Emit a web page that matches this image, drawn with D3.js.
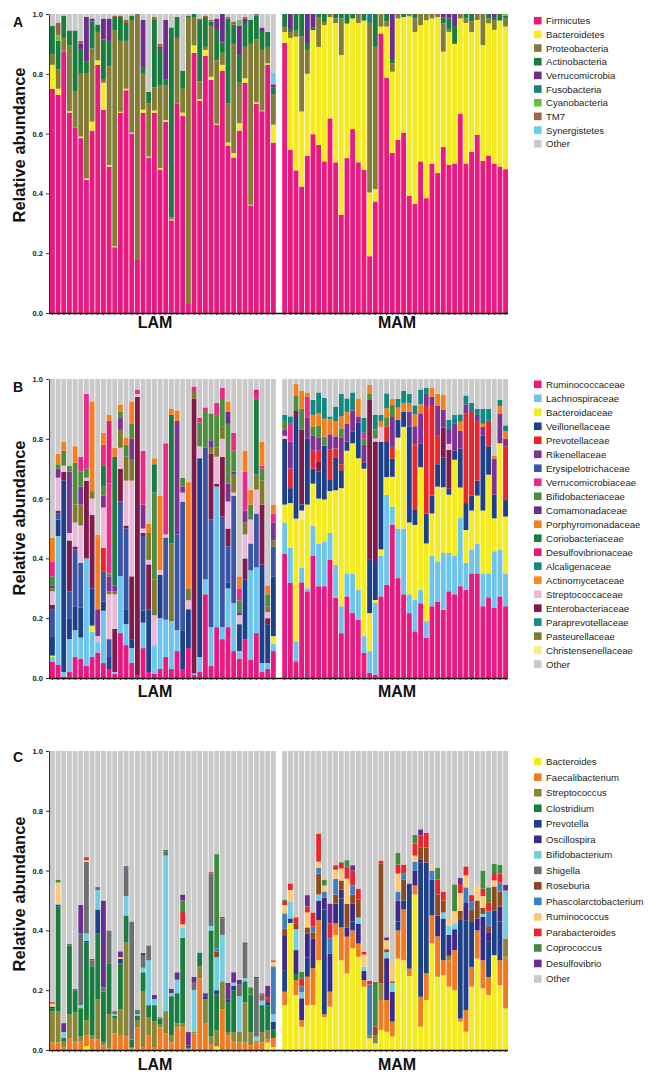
<!DOCTYPE html>
<html lang="en">
<head>
  <meta charset="UTF-8">
  <title>Relative abundance LAM vs MAM</title>
  <style>
    body { margin: 0; background: #fff; }
    svg { display: block; font-family: "Liberation Sans", Arial, sans-serif; }
    .tick text { font-weight: bold; font-size: 7.5px; fill: #222; }
    .legend text { font-size: 9.6px; fill: #231f20; }
  </style>
  <script src="https://cdnjs.cloudflare.com/ajax/libs/d3/7.8.5/d3.min.js"></script>
</head>
<body>
<svg id="chart" width="650" height="1079"></svg>
<script>
  // samples: 40 LAM followed by 40 MAM in every series array
  const groups = ["LAM", "MAM"];
  const nLam = 40, nMam = 40;
  const yTicks = [0, 0.2, 0.4, 0.6, 0.8, 1.0];

  // ---------- A: phyla ----------
  const phylaNames = ["Firmicutes", "Bacteroidetes", "Proteobacteria", "Actinobacteria", "Verrucomicrobia",
    "Fusobacteria", "Cyanobacteria", "TM7", "Synergistetes"];
  const phylaColors = ["#e8197f", "#f5eb1e", "#827c35", "#1b7c40", "#6e2c8e", "#168580", "#69bd45", "#a0623a", "#6fcde0"];

  const firmicutes = [
    .75,.73,.875,.67,.62,.585,.445,.61,.83,.68, .49,.22,.67,.745,.60,.18,.67,.52,.67,.48,
    .64,.31,.70,.66,.03,.87,.71,.86,.78,.63, .81,.56,.52,.61,.77,.36,.70,.675,.83,.57,
    .904,.546,.477,.423,.526,.598,.562,.507,.651,.504, .328,.518,.615,.504,.479,.19,.373,.935,.787,.535,
    .579,.603,.392,.365,.507,.384,.50,.468,.555,.496, .50,.666,.50,.54,.596,.509,.527,.50,.49,.481];
  const bacteroidetes = [
    .08,.02,0,.005,0,.005,.005,.03,.015,.09, .005,.003,.003,.005,.003,0,.01,.003,.007,.005,
    .005,.003,0,.01,0,.025,.005,.02,.01,.003, .02,.01,.015,.025,.015,.002,.005,.002,.005,.06,
    .036,.374,.447,.251,.274,.348,.328,.456,.339,.466, .535,.45,.37,.466,.499,.213,.041,.023,.171,.272,
    .406,.387,.60,.575,.456,.595,.485,.522,.319,.444, .40,.319,.47,.40,.384,.387,.442,.447,.488,.477];
  const proteobacteria = [
    .035,.065,.045,.22,.12,.21,.35,.245,.095,.01, .33,.722,.237,.16,.377,.82,.12,.177,.078,.275,
    .115,.007,.22,.08,.96,.095,.06,.01,.17,.212, .04,.13,.365,.135,.105,.538,.21,.203,.055,.10,
    .015,.02,.02,.25,.08,0,.10,.01,.01,.015, .122,0,0,.03,0,.567,.476,.042,.017,.028,
    .015,0,.008,.045,.037,.021,.015,.01,.095,.01, 0,.015,.015,.035,.02,.104,.016,.033,0,.027];
  const actinobacteria = [
    .095,.095,.075,.05,.205,.08,.04,.09,.025,.135, .085,.045,.08,.06,.015,0,.02,.04,.225,.12,
    .02,.635,.07,.06,.005,.01,.205,.10,.015,.105, .035,.285,.065,.09,.08,.08,.08,.06,.05,.025,
    .045,.01,.056,.076,.02,.01,.01,.027,0,.015, .015,.032,.015,0,.022,0,.11,0,.025,.011,
    0,.01,0,.015,0,0,0,0,.02,.035, .06,0,.015,.025,0,0,.015,.01,.022,.01];
  const verrucomicrobia = [
    0,0,0,0,0,.02,.15,.01,0,.07, .075,0,0,0,0,0,.16,0,0,.01,
    .20,0,0,0,0,0,0,0,0,.035, .095,0,0,.10,.015,0,0,.015,0,.01,
    0,.05,0,0,.10,.044,0,0,0,0, 0,0,0,0,0,0,0,0,0,.154,
    0,0,0,0,0,0,0,0,.011,.015, .04,0,0,0,0,0,0,.01,0,0];
  const fusobacteria = [
    0,0,0,0,0,0,0,0,0,0, 0,0,0,0,0,0,0,0,0,0,
    0,0,0,0,0,0,0,0,0,0, 0,0,0,0,0,0,0,0,0,0,
    0,0,0,0,0,0,0,0,0,0, 0,0,0,0,0,.03,0,0,0,0,
    0,0,0,0,0,0,0,0,0,0, 0,0,0,0,0,0,0,0,0,0];
  const cyanobacteria = [
    0,.02,0,0,0,0,0,0,0,0, 0,0,0,0,0,0,0,0,0,0,
    0,0,0,0,0,0,0,0,0,0, 0,0,0,.02,0,0,0,0,0,0,
    0,0,0,0,0,0,0,0,0,0, 0,0,0,0,0,0,0,0,0,0,
    0,0,0,0,0,0,0,0,0,0, 0,0,0,0,0,0,0,0,0,.005];
  const tm7 = [
    0,.04,0,0,0,.01,0,0,0,0, 0,.005,.005,.01,0,0,0,0,.01,.01,
    0,0,0,0,0,0,.005,.005,.005,0, 0,.005,.01,0,.005,0,.005,0,0,0,
    0,0,0,0,0,0,0,0,0,0, 0,0,0,0,0,0,0,0,0,0,
    0,0,0,0,0,0,0,0,0,0, 0,0,0,0,0,0,0,0,0,0];
  const synergistetes = [
    0,0,0,0,0,0,0,0,0,0, 0,0,0,0,0,0,0,0,0,0,
    0,0,0,0,0,0,0,0,0,0, 0,0,0,0,0,0,0,0,0,.04,
    0,0,0,0,0,0,0,0,0,0, 0,0,0,0,0,0,0,0,0,0,
    0,0,0,0,0,0,0,0,0,0, 0,0,0,0,0,0,0,0,0,0];
  const phylaSeries = [firmicutes, bacteroidetes, proteobacteria, actinobacteria, verrucomicrobia,
    fusobacteria, cyanobacteria, tm7, synergistetes];

  // ---------- B: families ----------
  const familyNames = ["Ruminococcaceae", "Lachnospiraceae", "Bacteroidaceae", "Veillonellaceae", "Prevotellaceae",
    "Rikenellaceae", "Erysipelotrichaceae", "Verrucomicrobiaceae", "Bifidobacteriaceae", "Comamonadaceae",
    "Porphyromonadaceae", "Coriobacteriaceae", "Desulfovibrionaceae", "Alcaligenaceae", "Actinomycetaceae",
    "Streptococcaceae", "Enterobacteriaceae", "Paraprevotellaceae", "Pasteurellaceae", "Christensenellaceae"];
  const familyColors = ["#e8197f", "#6dc5ee", "#f5eb1e", "#1e4088", "#e8262b", "#7f3291", "#3a55a5", "#ea2a86",
    "#4c8d3f", "#6a2c8f", "#f47f20", "#1b7c40", "#e4197a", "#148780", "#f58a1f", "#e8bad8", "#7f1a4a",
    "#178b86", "#7e7b2f", "#f6ef80"];

  const ruminococcaceae = [
    .055,.045,.005,.02,.07,.065,.04,.07,.085,.05, .03,.015,.15,.11,.05,.01,.10,.02,.015,.03,
    .07,.03,.09,.03,.10,.01,.02,.28,.04,.17, .13,.17,.09,.065,.13,.06,.15,.02,.03,.09,
    .415,.318,.056,.32,.29,.41,.307,.307,.395,.268, .15,.273,.217,.195,.084,.017,.011,.273,.312,.513,
    .334,.28,.217,.156,.25,.134,.24,.256,.228,.29, .28,.307,.295,.35,.35,.24,.27,.234,.273,.24];
  const lachnospiraceae = [
    .015,.43,.015,.11,.09,.07,.36,.085,.035,.175, 0,.005,.19,.07,.05,0,.085,0,.095,.17,
    .125,.16,.07,0,0,.005,.05,.05,.13,.47, .04,.13,.16,.025,0,.30,.22,.03,.02,.025,
    .105,.117,.067,.05,.01,.10,.143,.15,.09,.11, .09,.077,.133,.10,.056,.073,.24,.137,.30,.06,
    .166,.22,.063,.106,.045,.056,.17,.134,.19,.128, .13,.23,.09,.08,.10,.11,.08,.19,.157,.11];
  const bacteroidaceae = [
    .005,0,0,0,0,0,0,.02,0,0, 0,0,0,0,0,0,0,0,0,0,
    0,0,0,0,0,0,0,0,0,0, 0,0,0,0,0,0,0,0,0,.025,
    .06,.15,.41,.16,.28,.14,.15,.14,.14,.25, .395,.41,.435,.44,.56,.127,.01,.02,.06,.10,
    .264,.34,.24,.25,.41,.26,.14,.25,.22,.195, .32,.10,.11,.13,.16,.21,.33,.11,.355,.19];
  const veillonellaceae = [
    .065,.055,.64,.07,.08,.10,0,.125,0,.03, .04,0,0,.05,.03,0,.04,.21,0,.145,
    0,0,0,.13,.13,0,.665,0,0,0, 0,.02,0,.09,.20,0,0,.33,.13,.20,
    .22,.05,.34,.02,.22,.05,.09,.18,.04,.11, .06,.03,.04,.12,.02,.178,.13,.36,.12,.06,
    .06,.05,.32,.05,.08,.10,.06,.075,.10,.02, .03,.13,.09,.05,.05,.25,.095,.08,0,.055];
  const prevotellaceae = [
    0,0,0,0,0,0,0,0,0,.08, 0,0,0,0,0,0,0,0,0,0,
    0,0,0,0,0,0,0,0,0,0, 0,0,0,0,0,0,0,0,0,0,
    0,.065,0,0,0,.06,.035,0,.10,.03, .02,0,0,0,0,0,0,0,.05,.04,
    0,0,0,.22,0,.36,.30,.095,0,0, 0,0,.30,.28,.20,0,.085,0,0,.18];
  const rikenellaceae = [
    .01,.03,0,.205,0,.06,0,0,.09,.04, .05,.02,.04,0,.07,0,.08,0,0,0,
    0,0,.38,.02,0,0,0,0,.025,0, 0,.06,.01,.01,.04,0,0,0,0,.06,
    .02,.09,0,0,.07,.05,.045,0,.05,.04, .09,.06,.07,.02,.06,0,0,0,0,.10,
    0,0,.05,.06,.10,.04,.03,.10,.06,.05, .09,.06,.03,0,.02,.03,0,.12,.10,.025];
  const erysipelotrichaceae = [
    .09,.02,0,.09,.19,.15,0,0,0,.10, .06,0,.25,.27,0,0,.25,0,0,0,
    .275,0,.32,.43,0,0,0,.44,.36,0, .37,.12,.36,0,0,.09,.18,0,0,.10,
    0,0,0,0,0,0,0,0,0,0, 0,0,0,0,0,0,0,0,0,0,
    0,0,0,0,0,0,0,0,0,0, 0,0,0,0,0,0,0,0,0,0];
  const verrucomicrobiaceae = [
    .05,0,0,0,0,.05,.25,0,0,.07, .30,0,0,0,0,.015,.18,0,0,0,
    .305,0,0,0,0,.015,.015,.015,0,.04, .04,0,.06,.04,.13,0,.02,.01,0,.03,
    0,.06,0,0,.07,0,0,0,0,0, 0,0,0,0,.02,0,0,0,0,0,
    0,0,0,0,0,0,0,0,0,0, 0,0,0,0,0,0,0,0,0,0];
  const bifidobacteriaceae = [
    .03,.015,.05,.02,.14,.05,.03,0,0,.03, .01,0,.02,.04,.05,0,0,0,.29,0,
    0,0,0,.03,0,0,.08,.12,.09,.11, .09,.20,.07,.04,0,.05,0,.04,.04,0,
    .03,0,.05,.07,0,.03,.04,.03,0,0, .03,0,0,0,.02,.02,.03,0,.03,.04,
    0,0,0,0,0,0,0,0,0,0, 0,0,0,0,0,0,0,0,0,0];
  const comamonadaceae = [
    0,0,0,0,0,0,0,0,0,0, 0,0,0,0,0,0,0,0,0,0,
    0,0,0,0,0,0,0,0,0,0, 0,.04,0,0,0,0,0,0,0,0,
    0,0,0,0,0,0,0,0,0,0, 0,0,0,0,0,0,0,0,0,0,
    0,0,0,0,0,0,0,0,0,0, 0,0,0,0,0,0,0,0,0,0];
  const porphyromonadaceae = [
    .08,.035,.03,0,.055,0,0,.30,.235,.04, .02,.03,.025,.025,.075,0,0,.03,.02,.25,
    0,.02,.035,0,.355,0,0,0,0,0, 0,.035,0,.04,.07,.05,0,.08,.03,.03,
    0,0,.04,.06,.015,.04,.04,.06,.05,.05, .04,.04,0,.06,0,.03,0,.02,.03,.02,
    .04,.03,.03,.04,.03,0,.03,.04,.05,0, 0,.03,0,0,0,.01,0,.01,.025,.025];
  const coriobacteriaceae = [
    0,0,0,0,0,0,0,0,0,.07, 0,.43,0,0,0,0,0,0,.095,0,
    0,.43,0,0,0,0,0,0,0,0, 0,0,0,0,0,0,.25,0,0,0,
    0,0,0,0,0,0,0,0,0,0, 0,0,0,0,0,0,0,0,0,0,
    0,0,0,0,0,0,0,0,0,0, 0,0,0,0,0,0,0,0,0,0];
  const desulfovibrionaceae = [
    0,0,0,0,0,0,0,0,0,0, .21,0,0,0,0,0,0,0,0,0,
    0,0,0,0,0,0,0,0,0,0, 0,0,0,0,0,0,.015,0,0,0,
    0,0,0,0,0,0,0,0,0,0, 0,0,0,0,0,0,0,0,0,0,
    0,0,0,0,0,0,0,0,0,0, 0,0,0,0,0,0,0,0,0,0];
  const alcaligenaceae = [
    0,0,0,0,0,0,0,0,0,0, 0,0,0,0,0,0,0,0,0,0,
    0,0,0,0,0,0,0,0,0,0, 0,0,0,0,0,0,0,0,0,0,
    .02,.025,0,0,0,.05,.07,.07,0,.05, .075,.045,.06,0,.05,0,.05,.02,.05,0,
    .03,.04,.03,.03,.05,.02,0,0,0,.03, .02,.025,.03,.03,.02,.05,.04,0,.02,.02];
  const actinomycetaceae = [
    0,0,0,0,0,0,0,0,.015,0, 0,0,0,0,0,0,0,0,0,0,
    0,0,0,0,0,0,0,0,0,0, 0,0,0,0,0,0,0,0,0,0,
    0,0,0,0,0,0,0,0,0,0, 0,0,0,0,0,0,0,0,0,0,
    0,0,0,0,0,0,0,0,0,0, 0,0,0,0,0,0,0,0,0,0];
  const streptococcaceae = [
    .045,.11,.02,.025,.08,.125,.01,.055,.02,.135, .15,.115,.07,.15,.32,.01,.015,.015,.10,.015,
    .01,0,0,.03,.03,0,.04,0,0,.09, .06,.09,.01,.03,.08,.08,.08,0,.02,0,
    .01,0,0,0,0,0,0,0,0,0, 0,0,0,0,0,0,.01,.05,0,0,
    0,0,0,0,0,0,0,0,0,.02, 0,0,0,0,0,0,0,0,0,0];
  const enterobacteriaceae = [
    .015,.01,.03,.17,.01,0,.26,.245,0,0, 0,.145,.11,.01,.21,.93,.01,.15,0,0,
    0,0,0,0,0,.92,0,0,.22,.01, .20,.06,0,0,.07,0,0,.20,.02,0,
    0,0,.02,.25,0,0,.035,0,0,0, 0,0,0,0,0,.535,.40,0,0,0,
    0,0,0,0,0,0,0,0,.10,.13, 0,0,0,0,0,0,0,0,0,0];
  const paraprevotellaceae = [
    0,0,0,0,0,0,0,0,0,0, 0,0,0,0,0,0,0,0,0,0,
    0,0,0,0,0,0,0,0,0,0, 0,0,0,0,0,0,0,0,0,0,
    0,0,0,0,0,0,0,0,.01,0, 0,0,0,0,0,0,0,0,0,0,
    0,0,0,0,0,0,0,0,0,0, .01,0,0,0,0,0,0,0,0,0];
  const pasteurellaceae = [
    .01,0,0,0,.06,.07,0,.025,0,0, .01,.01,.06,.08,.07,0,0,.09,.12,0,
    0,.26,0,0,.04,.025,0,0,.02,.03, .04,0,.06,0,.04,0,.05,.08,.02,.02,
    0,0,0,0,0,0,0,0,0,0, 0,0,0,0,0,0,0,0,0,0,
    0,0,0,0,0,0,0,0,0,0, 0,0,0,0,0,0,0,0,0,0];
  const christensenellaceae = [
    0,0,0,0,0,0,0,0,0,0, 0,0,0,0,0,0,0,0,0,0,
    0,0,0,0,0,0,0,0,0,0, 0,0,0,0,0,0,0,0,0,0,
    0,0,0,.03,0,0,0,0,0,0, 0,0,0,0,0,0,0,0,0,0,
    .04,0,0,0,0,0,0,0,0,0, 0,0,0,0,0,0,0,0,0,0];
  const familySeries = [ruminococcaceae, lachnospiraceae, bacteroidaceae, veillonellaceae, prevotellaceae,
    rikenellaceae, erysipelotrichaceae, verrucomicrobiaceae, bifidobacteriaceae, comamonadaceae,
    porphyromonadaceae, coriobacteriaceae, desulfovibrionaceae, alcaligenaceae, actinomycetaceae,
    streptococcaceae, enterobacteriaceae, paraprevotellaceae, pasteurellaceae, christensenellaceae];
  // bottom-to-top drawing order (indices into familyNames)
  const familyStackOrder = [0, 1, 2, 19, 3, 6, 16, 4, 15, 18, 5, 8, 11, 9, 7, 12, 10, 14, 13, 17];

  // ---------- C: genera ----------
  const genusNames = ["Bacteroides", "Faecalibacterium", "Streptococcus", "Clostridium", "Prevotella", "Oscillospira",
    "Bifidobacterium", "Shigella", "Roseburia", "Phascolarctobacterium", "Ruminococcus", "Parabacteroides",
    "Coprococcus", "Desulfovibrio"];
  const genusColors = ["#f5eb1e", "#f07b23", "#8a8637", "#1b7c40", "#1e4088", "#3d2a87", "#74cde0", "#6d6e70",
    "#8c4a1e", "#3f7fc1", "#fcc979", "#e8262b", "#3e8d3e", "#6c2d91"];

  const bacteroides = [
    0,0,0,0,0,0,.013,0,0,0, 0,0,0,0,0,0,0,0,0,0,
    0,0,0,0,0,0,0,0,0,.012, 0,0,0,0,0,0,0,0,.025,.01,
    .15,.425,.184,.078,.15,.15,.30,.11,.145,.384, .30,.256,.34,.312,.212,.039,.022,.067,.061,.045,
    .306,.30,.247,.52,.078,.167,.356,.245,.25,.212, .20,.095,.061,.212,.306,.206,.184,.317,.217,.139];
  const faecalibacterium = [
    .025,.025,.01,.04,.025,.03,.037,.035,.035,.015, .005,.055,.05,.045,.005,.075,.01,.05,.01,.075,
    .055,.025,.075,.075,.005,.055,.24,.09,.02,0, .135,.05,.03,.025,.025,.015,.03,.025,.01,.03,
    .045,0,.05,.022,.095,.123,.134,.01,.05,.039, .11,.123,.06,.044,.022,0,0,.10,.106,.05,
    .094,.17,.025,.03,.10,.09,.094,.135,.05,.088, .134,.01,.073,.066,.094,.094,.06,0,.083,.173];
  const streptococcus = [
    .105,.105,.02,.08,.10,.015,.05,.015,.135,.01, .115,.05,.085,.315,.005,.025,.185,.06,.085,.01,
    .075,.025,.015,.015,0,.005,.04,.08,.025,.053, .095,.01,.03,.035,.135,.045,0,.035,.03,0,
    0,0,0,0,0,0,0,0,0,0, 0,0,0,0,0,.01,.028,.056,0,0,
    0,0,0,0,0,0,0,0,0,.015, 0,0,0,0,0,0,0,0,0,.061];
  const clostridium = [
    .01,.35,.01,.23,.075,.095,.26,.23,.22,.17, .17,.01,.155,.09,.025,.015,.065,.04,.055,.02,
    0,.13,.10,.285,.005,0,.045,0,.355,.12, 0,.10,.14,0,.07,.125,0,.09,.085,.03,
    0,0,.02,0,0,0,0,0,0,0, 0,0,0,0,0,0,0,0,0,0,
    0,0,0,0,0,0,0,0,0,0, 0,0,0,0,0,0,0,0,0,0];
  const prevotella = [
    .005,.005,0,0,0,0,.005,0,.08,0, 0,0,.015,0,0,0,0,0,0,0,
    0,0,0,0,.005,0,0,.01,0,.015, 0,.01,.015,0,0,0,0,0,.01,.025,
    .072,.015,0,0,.065,0,0,.35,0,0, .097,0,.03,0,0,0,0,0,0,0,
    .03,.03,.28,0,.45,.37,.12,0,.14,0, 0,.33,.30,.15,0,0,.12,.15,.13,0];
  const oscillospira = [
    0,0,0,0,0,0,0,0,0,0, 0,0,0,0,0,0,0,0,0,0,
    0,0,0,0,0,0,0,0,0,0, 0,0,0,0,0,0,0,0,0,0,
    .117,0,.08,.073,.08,.10,.066,.04,.128,.067, .03,.03,.06,.067,.03,0,0,0,.14,.10,
    .07,0,.005,.05,.01,0,0,.07,0,.07, .07,0,.06,0,.04,.145,.03,0,.05,0];
  const bifidobacterium = [
    0,.005,.02,0,0,.01,.025,0,.065,0, 0,.005,0,.065,0,.005,.015,.15,.02,0,
    .52,.01,.045,.035,0,.14,.005,0,.015,.11, .155,0,.01,.12,.01,0,.015,.015,0,.025,
    0,.055,.07,.02,0,0,.02,0,0,0, 0,0,0,.02,.015,0,0,0,.02,.03,
    0,0,0,0,0,0,0,0,.02,.03, .02,0,0,0,0,.01,0,0,0,.16];
  const shigella = [
    0,0,0,.005,.005,.24,.24,.02,.01,.015, .11,.01,0,.095,.395,.015,.04,.05,0,.005,
    .015,0,0,0,0,.025,0,0,.175,0, .055,0,0,.04,.115,0,.195,.02,0,0,
    0,0,0,0,0,0,0,0,0,0, 0,0,0,0,0,0,0,0,0,0,
    0,0,0,0,0,0,0,0,0,0, 0,0,0,0,0,0,0,0,0,0];
  const roseburia = [
    0,0,0,0,0,0,0,0,0,0, 0,0,0,0,0,0,0,0,0,0,
    0,0,0,0,0,0,0,0,0,.02, 0,0,0,0,0,0,0,0,0,0,
    .022,0,.02,0,.02,.02,.07,0,0,.03, .03,.08,.03,.06,0,0,.02,.40,.01,.005,
    0,.07,0,0,.04,.05,0,.07,.04,0, 0,.03,0,.04,.06,.02,.02,.08,.05,0];
  const phascolarctobacterium = [
    0,0,0,0,0,0,0,0,0,0, 0,0,0,0,0,0,0,0,0,0,
    0,0,0,0,0,0,0,0,0,.01, 0,0,0,0,0,0,0,0,0,.16,
    .051,0,0,.02,0,.02,.02,.02,.05,.053, 0,0,.03,0,0,.17,0,0,0,0,
    .03,.02,0,.03,0,0,.03,0,0,0, 0,0,.05,.03,0,0,.05,0,.03,0];
  const ruminococcus = [
    .01,.07,0,0,0,0,.005,0,0,0, 0,0,.005,0,0,0,0,0,0,0,
    0,0,0,.01,0,0,0,0,0,0, 0,0,0,0,0,0,0,0,0,.015,
    .028,.04,0,0,.05,0,.02,.02,0,.03, .04,.084,0,0,.04,0,0,0,.03,.06,
    .06,0,0,.02,0,0,.02,0,0,.02, .04,.06,.04,0,.05,.04,0,.02,0,0];
  const parabacteroides = [
    .005,0,0,0,0,0,.01,.005,0,0, 0,0,0,0,0,0,0,0,0,0,
    0,0,0,.045,0,0,0,0,.005,0, .005,0,0,0,0,0,0,.005,.015,.005,
    .01,.022,.02,.027,.02,.047,.094,0,.05,.015, .02,.04,.05,.037,.01,.012,.008,.01,0,0,
    .03,.03,0,.04,.04,.05,0,.05,.03,0, 0,.03,.03,.02,0,.025,.03,.025,.03,0];
  const coprococcus = [
    0,.01,0,0,0,0,0,0,0,0, 0,0,0,0,0,0,0,0,0,0,
    .005,0,0,.035,0,0,0,0,0,.315, 0,0,0,0,0,.025,0,0,0,0,
    .008,0,0,.022,0,0,0,.02,0,0, .003,.022,0,0,0,0,.15,0,0,0,
    .04,0,0,.03,0,0,0,.04,0,0, .09,0,0,0,0,.06,.05,.03,.03,0];
  const desulfovibrio = [
    0,0,.03,0,0,.095,0,0,0,.29, 0,0,.02,.005,0,0,.01,0,.015,0,
    0,.015,.025,.02,.045,.02,0,.01,0,0, 0,.055,.035,.015,.005,0,.005,0,.04,0,
    0,0,0,0,.038,0,0,0,.067,0, 0,0,.018,0,0,0,0,0,.01,0,
    0,0,0,0,.02,0,0,0,0,0, 0,.02,0,0,0,0,0,0,0,.02];
  const genusSeries = [bacteroides, faecalibacterium, streptococcus, clostridium, prevotella, oscillospira,
    bifidobacterium, shigella, roseburia, phascolarctobacterium, ruminococcus, parabacteroides,
    coprococcus, desulfovibrio];

  const otherColor = "#c9c9c9";

  // ---------- layout ----------
  const panels = [
    { letter: "A", top: 14, bottom: 313, names: phylaNames, colors: phylaColors, series: phylaSeries,
      order: d3.range(phylaNames.length), titleY: 145, groupDy: 15, legTop: 20.7, legStep: 13.67, letterY: 27 },
    { letter: "B", top: 379, bottom: 678, names: familyNames, colors: familyColors, series: familySeries,
      order: familyStackOrder, titleY: 518, groupDy: 19, legTop: 384.3, legStep: 13.99, letterY: 392 },
    { letter: "C", top: 751, bottom: 1050, names: genusNames, colors: genusColors, series: genusSeries,
      order: d3.range(genusNames.length), titleY: 894, groupDy: 20, legTop: 761.7, legStep: 15.52, letterY: 762 }
  ];

  const svg = d3.select("#chart");
  const nTotal = nLam + nMam;
  // one empty slot separates the two groups
  const slotOf = j => j < nLam ? j : j + 1;
  const x = d3.scaleBand().domain(d3.range(nTotal + 1)).range([50, 508]).paddingInner(0.14).paddingOuter(0);

  panels.forEach(p => {
    const y = d3.scaleLinear().domain([0, 1]).range([p.bottom, p.top]);
    const g = svg.append("g");

    const rows = d3.range(nTotal).map(j => {
      const row = { j: j };
      p.series.forEach((s, k) => { row[k] = s[j]; });
      row.other = Math.max(0, 1 - d3.sum(p.series, s => s[j]));
      return row;
    });
    const keys = p.order.concat(["other"]);
    const stacked = d3.stack().keys(keys)(rows);

    g.selectAll("g.layer")
      .data(stacked)
      .enter().append("g")
      .attr("class", "layer")
      .attr("fill", d => d.key === "other" ? otherColor : p.colors[+d.key])
      .selectAll("rect")
      .data(d => d)
      .enter().append("rect")
      .attr("x", d => x(slotOf(d.data.j)))
      .attr("width", x.bandwidth())
      .attr("y", d => y(d[1]))
      .attr("height", d => Math.max(0, y(d[0]) - y(d[1])));

    // y axis
    g.append("g")
      .attr("transform", "translate(49,0)")
      .call(d3.axisLeft(y).tickValues(yTicks).tickFormat(d3.format(".1f")).tickSize(3).tickSizeOuter(0))
      .call(a => a.select(".domain").attr("stroke", "#333"))
      .call(a => a.selectAll(".tick line").attr("stroke", "#333"));

    // x axis with a small tick under every bar
    const barSlots = d3.range(nTotal).map(slotOf);
    g.append("g")
      .attr("transform", `translate(0,${p.bottom})`)
      .call(d3.axisBottom(x).tickValues(barSlots).tickSize(2).tickFormat(""))
      .call(a => a.select(".domain").remove())
      .call(a => a.selectAll(".tick line").attr("stroke", "#222"));
    g.append("line")
      .attr("x1", 49).attr("x2", 508)
      .attr("y1", p.bottom + 0.5).attr("y2", p.bottom + 0.5)
      .attr("stroke", "#111").attr("stroke-width", 1.4);

    // group labels
    const groupCenters = [155, 397];
    groups.forEach((name, i) => {
      g.append("text")
        .attr("x", groupCenters[i])
        .attr("y", p.bottom + p.groupDy)
        .attr("text-anchor", "middle")
        .style("font-weight", "bold")
        .style("font-size", "16px")
        .style("fill", "#111")
        .text(name);
    });

    // y title
    g.append("text")
      .attr("transform", `translate(25,${p.titleY}) rotate(-90)`)
      .attr("text-anchor", "middle")
      .style("font-weight", "bold")
      .style("font-size", "16.5px")
      .style("fill", "#111")
      .text("Relative abundance");

    // panel letter
    g.append("text")
      .attr("x", 13)
      .attr("y", p.letterY)
      .style("font-weight", "bold")
      .style("font-size", "14px")
      .style("fill", "#111")
      .text(p.letter);

    // legend
    const items = p.names.map((n, k) => ({ name: n, color: p.colors[k] }))
      .concat([{ name: "Other", color: otherColor }]);
    const leg = g.append("g").attr("class", "legend");
    const li = leg.selectAll("g")
      .data(items)
      .enter().append("g")
      .attr("transform", (d, i) => `translate(0,${p.legTop + i * p.legStep})`);
    li.append("rect")
      .attr("x", 534).attr("y", -3.8)
      .attr("width", 7.6).attr("height", 7.6)
      .attr("fill", d => d.color);
    li.append("text")
      .attr("x", 546)
      .attr("dy", "0.36em")
      .text(d => d.name);
  });
</script>
</body>
</html>
